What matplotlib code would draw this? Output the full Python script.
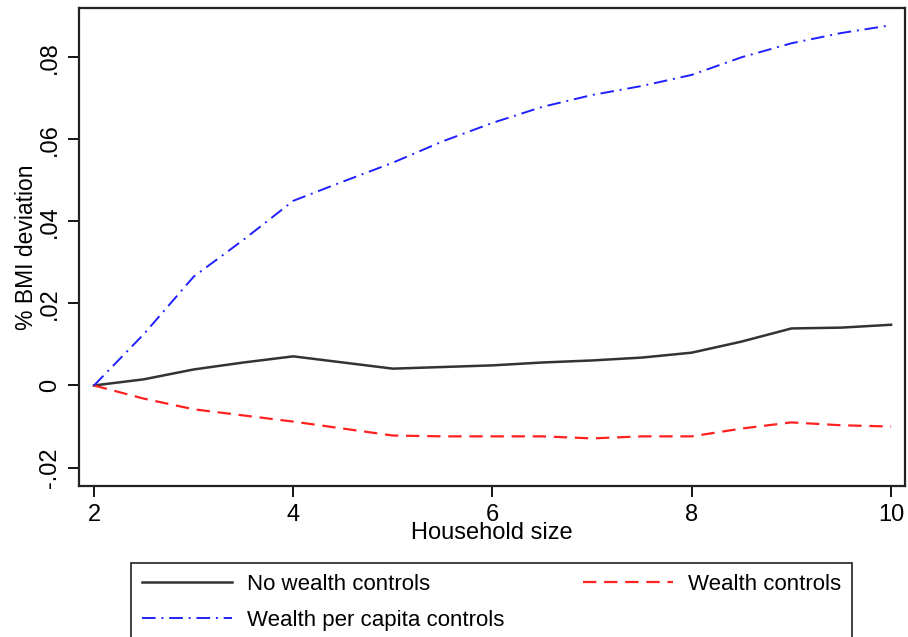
import numpy as np
import matplotlib.pyplot as plt

plt.rcParams['font.family'] = ['Liberation Sans', 'DejaVu Sans']

# Household size grid and % BMI deviation
household_size = [2, 2.5, 3, 3.5, 4, 4.5, 5, 5.5, 6, 6.5, 7, 7.5, 8, 8.5, 9, 9.5, 10]
no_wealth = [0, 0.0015, 0.0039, 0.0056, 0.0071, 0.0056, 0.0041, 0.0045, 0.0049,
             0.0056, 0.0061, 0.0068, 0.0080, 0.0107, 0.0139, 0.0141, 0.0148]
wealth = [0, -0.0032, -0.0058, -0.0073, -0.0088, -0.0105, -0.0122, -0.0124, -0.0124,
          -0.0124, -0.0129, -0.0124, -0.0124, -0.0105, -0.0090, -0.0097, -0.0100]
wealth_pc = [0, 0.0125, 0.0265, 0.0355, 0.0450, 0.0497, 0.0543, 0.0595, 0.0640,
             0.0679, 0.0708, 0.0730, 0.0757, 0.0800, 0.0834, 0.0859, 0.0878]

labels = ['No wealth controls', 'Wealth controls', 'Wealth per capita controls']
xticks = [2, 4, 6, 8, 10]
yticks = [-0.02, 0, 0.02, 0.04, 0.06, 0.08]
ytick_labels = ['-.02', '0', '.02', '.04', '.06', '.08']

fig = plt.figure(figsize=(9.08, 6.37), dpi=100)
ax = fig.add_axes([79 / 908, 1 - 486 / 637, (905 - 79) / 908, (486 - 8) / 637])

l1, = ax.plot(household_size, no_wealth, color='#333333', lw=1.8, label=labels[0])
l2, = ax.plot(household_size, wealth, color='#ff2020', lw=1.6, ls=(0, (6, 3.5)), label=labels[1])
l3, = ax.plot(household_size, wealth_pc, color='#2020ff', lw=1.4, ls=(0, (7, 3, 1, 3)), label=labels[2])

ax.set_xlim(1.85, 10.14)
ax.set_ylim(-0.0245, 0.092)
ax.set_xticks(xticks)
ax.set_xticklabels([str(t) for t in xticks])
ax.set_yticks(yticks)
ax.set_yticklabels(ytick_labels, rotation=90, va='center')
ax.tick_params(direction='out', length=8, width=1.3, labelsize=17, colors='black')
ax.tick_params(axis='x', pad=5)
ax.tick_params(axis='y', pad=5)
for s in ax.spines.values():
    s.set_linewidth(1.6)
    s.set_color('#222222')

ax.set_xlabel('Household size', fontsize=17, labelpad=-3)
ax.set_ylabel('% BMI deviation', fontsize=16.5, labelpad=1)

# matplotlib fills legend columns first, so order handles for row-wise reading
leg = fig.legend([l1, l3, l2], [labels[0], labels[2], labels[1]], loc='upper left',
                 bbox_to_anchor=(131 / 908, 0, (852 - 131) / 908, 1 - 563 / 637),
                 mode='expand', ncol=2, fontsize=16, frameon=True, fancybox=False,
                 edgecolor='black', handlelength=4.05, handletextpad=0.68,
                 borderpad=0.5, borderaxespad=0, labelspacing=0.65, columnspacing=2)
leg.get_frame().set_linewidth(1.3)

fig.savefig('out.png', dpi=100)
